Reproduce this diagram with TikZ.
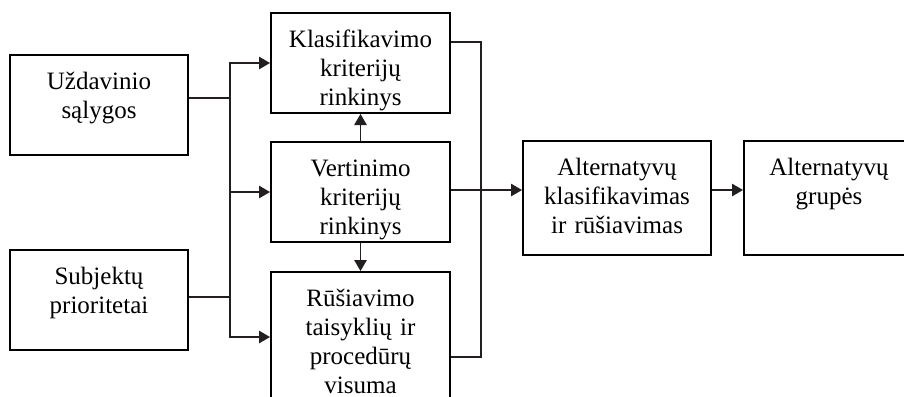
\documentclass[tikz,border=0pt]{standalone}
\usepackage{fontspec}
\setmainfont{Liberation Serif}
\usetikzlibrary{arrows.meta,positioning,calc}
\definecolor{LineGray}{RGB}{35,31,32}
\tikzset{
  block/.style={draw=black,line width=0.8pt,inner sep=0pt,text width=71.4pt,
    align=center,text height=13.6pt,text depth=#1},
  block/.default=26.4pt,
  link/.style={draw=LineGray,line width=0.45pt},
  arrow/.style={link,-{Triangle[length=4.4pt,width=5pt]}}
}

\begin{document}
\begin{tikzpicture}[x=0.4pt,y=-0.4pt,font=\fontsize{10pt}{11.6pt}\selectfont]
  \clip (0,0) rectangle (904,396);
  % inputs
  \node[block] (usl) at (99,105) {Uždavinio\\sąlygos};
  \node[block] (subj) at (99,300) {Subjektų\\prioritetai};
  % middle column
  \node[block,text width=71.6pt] (klas) at (360.5,63) {Klasifikavimo\\kriterijų\\rinkinys};
  \node[block,text width=71.6pt,below=10.8pt of klas] (vert) {Vertinimo\\kriterijų\\rinkinys};
  \node[block=38.4pt,text width=71.6pt,below=11.2pt of vert] (rus) {Rūšiavimo\\taisyklių ir\\procedūrų\\visuma};
  % outputs
  \node[block=32pt,text width=75.2pt] (altk) at (617,198) {Alternatyvų\\klasifikavimas\\ir rūšiavimas};
  \node[block=32pt,text width=68pt,right=12.4pt of altk] (altg) {Alternatyvų\\grupės\\\mbox{}};
  % left bus
  \coordinate (bl1) at (230,98);
  \coordinate (bl2) at (230,297);
  \draw[link] (usl.east |- bl1) -- (bl1);
  \draw[link] (subj.east |- bl2) -- (bl2);
  \draw[link] (bl1) -- (bl2);
  \draw[arrow] (bl1) |- (klas.west);
  \draw[arrow] (bl1) |- (vert.west);
  \draw[arrow] (bl2) |- (rus.west);
  \draw[arrow] (vert.north) -- (klas.south);
  \draw[arrow] (vert.south) -- (rus.north);
  % right bus
  \coordinate (br) at (481,190);
  \draw[link] ([yshift=8.4pt]klas.east) -| (br);
  \draw[link] ([yshift=-8pt]rus.east) -| (br);
  \draw[arrow] (vert.east |- br) -- (altk.west |- br);
  \draw[arrow] (altk.east |- br) -- (altg.west |- br);
\end{tikzpicture}
\end{document}
